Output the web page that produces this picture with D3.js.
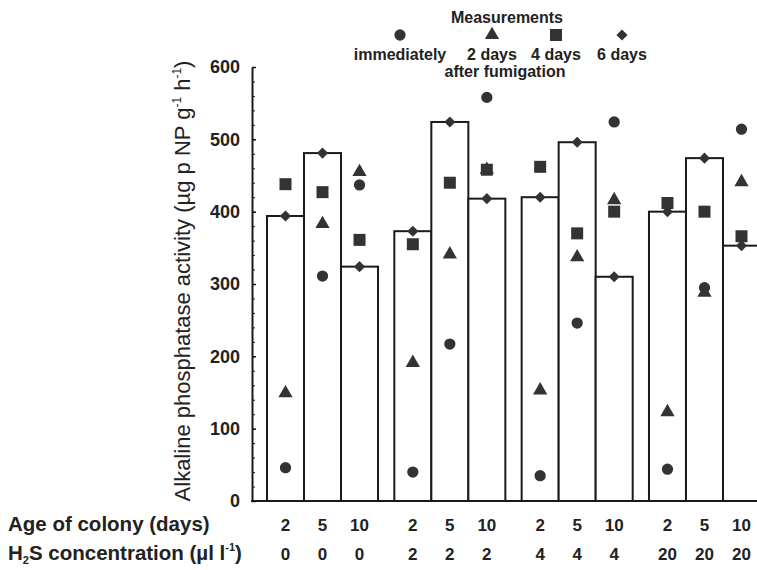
<!DOCTYPE html>
<html>
<head>
<meta charset="utf-8">
<script src="https://cdn.jsdelivr.net/npm/d3@7"></script>
<style>
  body { margin: 0; background: #fff; }
  text { font-family: "Liberation Sans", Arial, sans-serif; fill: #222; }
</style>
</head>
<body>
<div id="chart"></div>
<script>
// data
var ages = ["2", "5", "10"];
var concs = ["0", "2", "4", "20"];
// one entry per bar, order: conc 0 (2,5,10), conc 2 (...), conc 4, conc 20
var immediately = [46, 311, 437, 40, 217, 558, 35, 246, 524, 44, 295, 514];
var twoDays     = [149, 383, 455, 191, 341, 458, 153, 337, 416, 123, 288, 441];
var fourDays    = [438, 427, 361, 355, 440, 458, 462, 370, 400, 412, 400, 366];
var sixDays     = [394, 481, 324, 373, 524, 418, 420, 496, 310, 400, 474, 353];
var yTicks = [0, 100, 200, 300, 400, 500, 600];

var svgWidth = 757;
var svgHeight = 570;

var svg = d3.select("#chart")
  .append("svg")
  .attr("width", svgWidth)
  .attr("height", svgHeight);

// scales
var yScale = d3.scaleLinear().domain([0, 600]).range([501, 67]);

var groupScale = d3.scaleBand()
  .domain(concs)
  .range([267, 760])
  .paddingInner(0.128);

var ageScale = d3.scaleBand()
  .domain(ages)
  .range([0, groupScale.bandwidth()]);

// flatten into rows for drawing
var rows = [];
concs.forEach(function(c, gi) {
  ages.forEach(function(a, ai) {
    var i = gi * 3 + ai;
    rows.push({
      conc: c, age: a,
      imm: immediately[i], d2: twoDays[i], d4: fourDays[i], d6: sixDays[i]
    });
  });
});

function barX(d) { return groupScale(d.conc) + ageScale(d.age); }
function barMid(d) { return barX(d) + ageScale.bandwidth() / 2; }

// bars
svg.append("g").selectAll("rect")
  .data(rows)
  .enter()
  .append("rect")
  .attr("x", barX)
  .attr("y", function(d) { return yScale(d.d6); })
  .attr("width", ageScale.bandwidth())
  .attr("height", function(d) { return yScale(0) - yScale(d.d6); })
  .attr("fill", "#fff")
  .attr("stroke", "#1a1a1a")
  .attr("stroke-width", 2);

// axes
var leftAxis = d3.axisLeft(yScale)
  .tickValues(yTicks)
  .tickSizeInner(-4)
  .tickSizeOuter(0)
  .tickPadding(12);

var minorAxis = d3.axisLeft(yScale)
  .tickValues(d3.range(0, 601, 20))
  .tickSizeInner(-3)
  .tickSizeOuter(0)
  .tickFormat("");

var yAxisG = svg.append("g")
  .attr("transform", "translate(252,0)")
  .call(leftAxis);
svg.append("g")
  .attr("transform", "translate(252,0)")
  .call(minorAxis)
  .select(".domain").remove();

yAxisG.select(".domain").attr("stroke", "#1a1a1a").attr("stroke-width", 2);
yAxisG.selectAll(".tick line").attr("stroke-width", 1.5);
yAxisG.selectAll(".tick text")
  .attr("font-size", 18)
  .attr("font-weight", "bold")
  .attr("fill", "#222")
  .style("font-family", "'Liberation Sans', Arial, sans-serif");
svg.selectAll(".tick line").attr("stroke", "#1a1a1a");

// x baseline
svg.append("line")
  .attr("x1", 251).attr("x2", 757)
  .attr("y1", yScale(0)).attr("y2", yScale(0))
  .attr("stroke", "#1a1a1a")
  .attr("stroke-width", 2);

// markers
var markColor = "#333";
var circleSym = d3.symbol().type(d3.symbolCircle).size(100);
var triSym = d3.symbol().type(d3.symbolTriangle).size(88);
var sqSym = d3.symbol().type(d3.symbolSquare).size(144);
var diaSym = d3.symbol().type(d3.symbolSquare).size(62);

function drawMarks(key, sym, rot) {
  svg.append("g").selectAll("path")
    .data(rows)
    .enter()
    .append("path")
    .attr("d", sym)
    .attr("transform", function(d) {
      return "translate(" + barMid(d) + "," + yScale(d[key]) + ")" + (rot ? " rotate(45)" : "");
    })
    .attr("fill", markColor);
}
drawMarks("imm", circleSym, false);
drawMarks("d2", triSym, false);
drawMarks("d4", sqSym, false);
drawMarks("d6", diaSym, true);

// y axis title
var yTitle = svg.append("text")
  .attr("transform", "translate(190,281) rotate(-90)")
  .attr("text-anchor", "middle")
  .attr("font-size", 22);
yTitle.append("tspan").text("Alkaline phosphatase activity (\u00b5g p NP g");
yTitle.append("tspan").attr("font-size", 12).attr("dy", -9).text("-1");
yTitle.append("tspan").attr("dy", 9).text(" h");
yTitle.append("tspan").attr("font-size", 12).attr("dy", -9).text("-1");
yTitle.append("tspan").attr("dy", 9).text(")");

// category rows under the chart
svg.append("text")
  .attr("x", 8).attr("y", 531)
  .attr("font-size", 20.5).attr("font-weight", "bold")
  .text("Age of colony (days)");

var h2s = svg.append("text")
  .attr("x", 8).attr("y", 560)
  .attr("font-size", 20.5).attr("font-weight", "bold");
h2s.append("tspan").text("H");
h2s.append("tspan").attr("font-size", 11).attr("dy", 4).text("2");
h2s.append("tspan").attr("dy", -4).text("S concentration (\u00b5l l");
h2s.append("tspan").attr("font-size", 11).attr("dy", -9).text("-1");
h2s.append("tspan").attr("dy", 9).text(")");

svg.append("g").selectAll("text")
  .data(rows)
  .enter()
  .append("text")
  .attr("x", barMid)
  .attr("y", 531)
  .attr("text-anchor", "middle")
  .attr("font-size", 17).attr("font-weight", "bold")
  .text(function(d) { return d.age; });

svg.append("g").selectAll("text")
  .data(rows)
  .enter()
  .append("text")
  .attr("x", barMid)
  .attr("y", 560)
  .attr("text-anchor", "middle")
  .attr("font-size", 17).attr("font-weight", "bold")
  .text(function(d) { return d.conc; });

// legend
var legendItems = [
  { label: "immediately", sym: circleSym, x: 400, rot: false },
  { label: "2 days", sym: triSym, x: 492, rot: false },
  { label: "4 days", sym: sqSym, x: 556, rot: false },
  { label: "6 days", sym: diaSym, x: 622, rot: true }
];

svg.append("text")
  .attr("x", 507).attr("y", 23)
  .attr("text-anchor", "middle")
  .attr("font-size", 16).attr("font-weight", "bold")
  .text("Measurements");

var legend = svg.append("g").selectAll("g")
  .data(legendItems)
  .enter()
  .append("g");
legend.append("path")
  .attr("d", function(d) { return d.sym(); })
  .attr("transform", function(d) { return "translate(" + d.x + ",35)" + (d.rot ? " rotate(45)" : ""); })
  .attr("fill", markColor);
legend.append("text")
  .attr("x", function(d) { return d.x; })
  .attr("y", 60)
  .attr("text-anchor", "middle")
  .attr("font-size", 16).attr("font-weight", "bold")
  .text(function(d) { return d.label; });

svg.append("text")
  .attr("x", 505).attr("y", 77)
  .attr("text-anchor", "middle")
  .attr("font-size", 16).attr("font-weight", "bold")
  .text("after fumigation");
</script>
</body>
</html>
